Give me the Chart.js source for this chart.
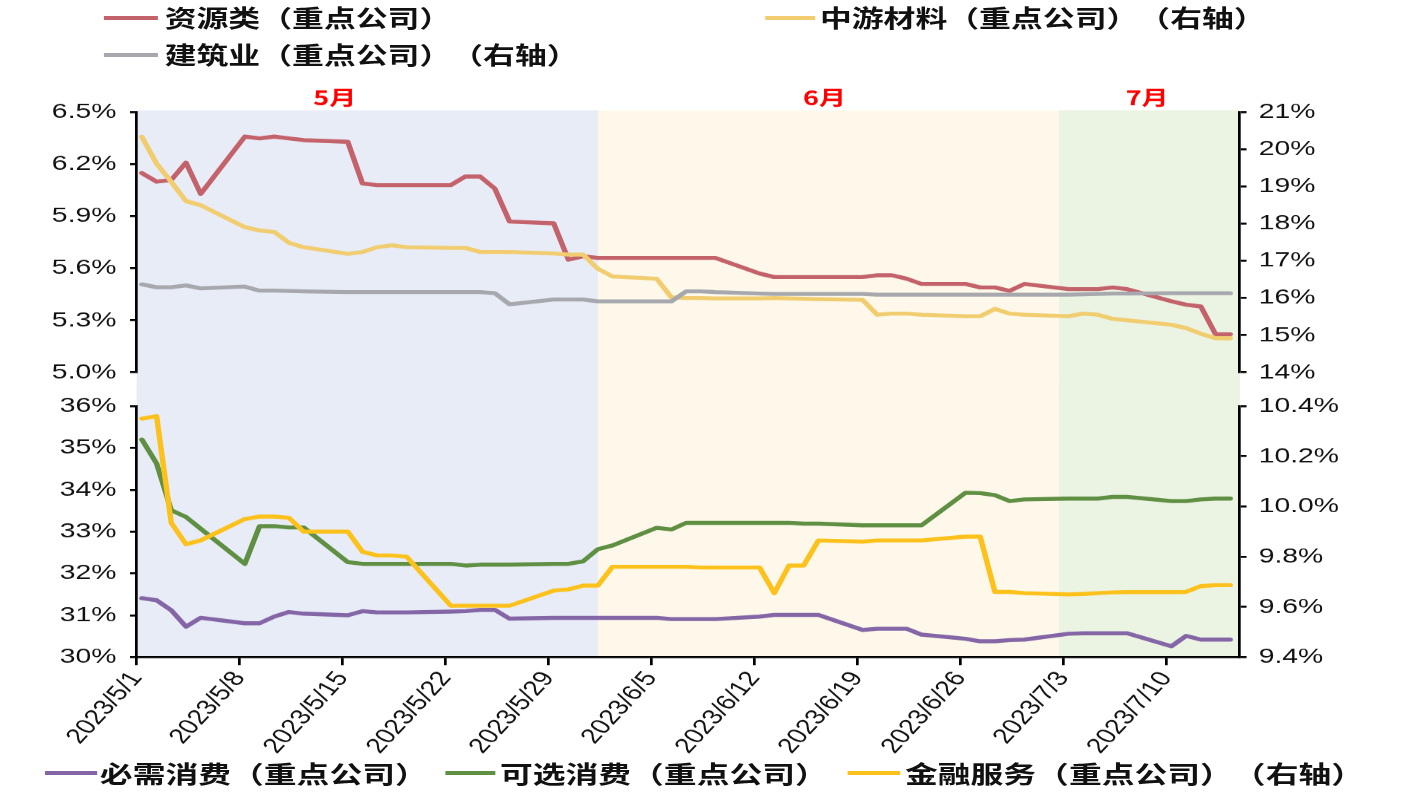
<!DOCTYPE html>
<html>
<head>
<meta charset="utf-8">
<script src="https://cdn.jsdelivr.net/npm/chart.js@4.4.0/dist/chart.umd.min.js"></script>
<style>
  html, body { margin: 0; padding: 0; background: #fff; overflow: hidden; }
  #stage { position: absolute; left: 0; top: 0; width: 1041px; height: 796px; transform-origin: 0 0; }
  .panel { position: absolute; left: 0; width: 1041px; }
  .lg { position: absolute; display: flex; align-items: center; height: 26px;
        font-family: "Noto Sans CJK SC", sans-serif; font-weight: 700; font-size: 23.6px;
        color: #111; white-space: nowrap; line-height: 1; text-spacing-trim: space-all; }
  #legendBot .lg { font-size: 24.3px; }
  .lg i { display: inline-block; height: 4px; }
</style>
</head>
<body>
<div id="stage">
  <div id="legendTop"></div>
  <div class="panel" style="top:80px;height:320px"><canvas id="cTop"></canvas></div>
  <div class="panel" style="top:380px;height:380px"><canvas id="cBot"></canvas></div>
  <div id="legendBot"></div>
</div>
<script>
// ---- data ---------------------------------------------------------------
const tradeDates = [
  '2023/5/1','2023/5/2','2023/5/3','2023/5/4','2023/5/5',
  '2023/5/8','2023/5/9','2023/5/10','2023/5/11','2023/5/12',
  '2023/5/15','2023/5/16','2023/5/17','2023/5/18','2023/5/19',
  '2023/5/22','2023/5/23','2023/5/24','2023/5/25','2023/5/26',
  '2023/5/29','2023/5/30','2023/5/31','2023/6/1','2023/6/2',
  '2023/6/5','2023/6/6','2023/6/7','2023/6/8','2023/6/9',
  '2023/6/12','2023/6/13','2023/6/14','2023/6/15','2023/6/16',
  '2023/6/19','2023/6/20','2023/6/21','2023/6/22','2023/6/23',
  '2023/6/26','2023/6/27','2023/6/28','2023/6/29','2023/6/30',
  '2023/7/3','2023/7/4','2023/7/5','2023/7/6','2023/7/7',
  '2023/7/10','2023/7/11','2023/7/12','2023/7/13','2023/7/14'
];

// upper panel
const resources = [6.15,6.10,6.11,6.21,6.03, 6.36,6.35,6.36,6.35,6.34, 6.33,6.09,6.08,6.08,6.08,
  6.08,6.13,6.13,6.06,5.87, 5.86,5.65,5.67,5.66,5.66, 5.66,5.66,5.66,5.66,5.66,
  5.57,5.55,5.55,5.55,5.55, 5.55,5.56,5.56,5.54,5.51, 5.51,5.49,5.49,5.47,5.51,
  5.48,5.48,5.48,5.49,5.48, 5.41,5.39,5.38,5.22,5.22];
const midstream = [20.34,19.62,19.13,18.61,18.50, 17.91,17.82,17.78,17.49,17.37, 17.19,17.24,17.37,17.42,17.37,
  17.35,17.35,17.24,17.24,17.24, 17.20,17.17,17.17,16.79,16.58, 16.52,16.02,16.00,16.00,15.99,
  15.99,16.00,15.99,15.98,15.97, 15.95,15.55,15.58,15.58,15.55, 15.51,15.51,15.71,15.58,15.55,
  15.51,15.58,15.55,15.44,15.40, 15.28,15.19,15.04,14.92,14.92];
const construction = [16.37,16.29,16.29,16.34,16.26, 16.31,16.20,16.20,16.19,16.18, 16.16,16.16,16.16,16.16,16.16,
  16.16,16.16,16.16,16.13,15.83, 15.96,15.96,15.96,15.91,15.91, 15.91,15.91,16.18,16.18,16.16,
  16.12,16.11,16.11,16.11,16.11, 16.11,16.09,16.09,16.09,16.09, 16.09,16.09,16.09,16.09,16.09,
  16.09,16.10,16.11,16.12,16.12, 16.13,16.13,16.13,16.13,16.13];

// lower panel
const staples = [31.41,31.36,31.12,30.73,30.94, 30.81,30.81,30.97,31.08,31.04, 31.00,31.10,31.07,31.07,31.07,
  31.09,31.10,31.13,31.13,30.92, 30.94,30.94,30.94,30.94,30.94, 30.94,30.91,30.91,30.91,30.91,
  30.97,31.01,31.01,31.01,31.01, 30.65,30.68,30.68,30.68,30.54, 30.44,30.38,30.38,30.41,30.42,
  30.56,30.57,30.57,30.57,30.57, 30.26,30.51,30.42,30.42,30.42];
const discretionary = [35.20,34.63,33.51,33.35,33.07, 32.23,33.13,33.13,33.10,33.10, 32.27,32.23,32.23,32.23,32.23,
  32.23,32.19,32.21,32.21,32.21, 32.23,32.23,32.29,32.58,32.67, 33.09,33.05,33.21,33.21,33.21,
  33.21,33.21,33.21,33.19,33.19, 33.15,33.15,33.15,33.15,33.15, 33.93,33.92,33.87,33.73,33.77,
  33.79,33.79,33.79,33.83,33.83, 33.73,33.73,33.77,33.79,33.79];
const finance = [10.35,10.36,9.935,9.85,9.865, 9.95,9.96,9.96,9.955,9.90, 9.90,9.82,9.805,9.805,9.80,
  9.605,9.605,9.605,9.605,9.605, 9.665,9.67,9.685,9.685,9.76, 9.76,9.76,9.76,9.757,9.757,
  9.757,9.655,9.765,9.765,9.865, 9.86,9.865,9.865,9.865,9.865, 9.88,9.88,9.66,9.66,9.655,
  9.65,9.652,9.655,9.658,9.659, 9.659,9.66,9.683,9.687,9.687];

// axis tick labels
const xTickLabels = ['2023/5/1','2023/5/8','2023/5/15','2023/5/22','2023/5/29','2023/6/5',
  '2023/6/12','2023/6/19','2023/6/26','2023/7/3','2023/7/10'];
const topLeftLabels  = ['5.0%','5.3%','5.6%','5.9%','6.2%','6.5%'];
const topRightLabels = ['14%','15%','16%','17%','18%','19%','20%','21%'];
const botLeftLabels  = ['30%','31%','32%','33%','34%','35%','36%'];
const botRightLabels = ['9.4%','9.6%','9.8%','10.0%','10.2%','10.4%'];

const monthNames = ['5月','6月','7月'];

// ---- layout & style -----------------------------------------------------
const W = 1041;
const STRETCH = 1405 / W;              // the whole figure is drawn wide
document.getElementById('stage').style.transform = 'scaleX(' + STRETCH + ')';

const LEFT_AXIS_W = 101.3;
const RIGHT_AXIS_W = W - 918.6;
const X_MAX = 75;                      // days shown from 2023/5/1
const POINT_SHIFT = 0.35;              // points sit just right of their day tick
const bandSpans = [[0, 31.37], [31.37, 62.7], [62.7, X_MAX]];
const bandColors = ['#E8ECF7', '#FEF8EA', '#EBF3E3'];
const monthLabelDays = [13.47, 46.76, 68.7];

const tickFont = { family: '"Liberation Sans", Arial, sans-serif', size: 21 };
const dateFont = { family: '"Liberation Sans", Arial, sans-serif', size: 21 };
const INK = '#111';

const DAY_MS = 86400000;
const ORIGIN = Date.UTC(2023, 4, 1);
function dayOf(s) {
  const [y, m, d] = s.split('/').map(Number);
  return (Date.UTC(y, m - 1, d) - ORIGIN) / DAY_MS;
}
function points(vals) {
  return vals.map((v, i) => ({ x: dayOf(tradeDates[i]) + POINT_SHIFT, y: v }));
}

const topSeries = [
  { name: '资源类（重点公司）', data: resources, color: '#C4626B', axis: 'yL' },
  { name: '中游材料（重点公司）（右轴）', data: midstream, color: '#F1CD6F', axis: 'yR' },
  { name: '建筑业（重点公司）（右轴）', data: construction, color: '#A6A8AE', axis: 'yR' }
];
const botSeries = [
  { name: '必需消费（重点公司）', data: staples, color: '#8466A6', axis: 'yL' },
  { name: '可选消费（重点公司）', data: discretionary, color: '#5F8F42', axis: 'yL' },
  { name: '金融服务（重点公司）（右轴）', data: finance, color: '#FCC11A', axis: 'yR' }
];

// legend placement: [left, centerY, swatch width, gap]
const topLegendSpots = [[77, 18, 40, 5], [566.8, 18, 37, 3.7], [77, 55, 40, 5]];
const botLegendSpots = [[33.3, 773, 38.5, 2.2], [329.7, 773, 37, 3.7], [628.3, 773, 38.5, 3.7]];

function buildLegend(hostId, list, spots) {
  const host = document.getElementById(hostId);
  list.forEach((s, i) => {
    const [left, cy, sw, gap] = spots[i];
    const item = document.createElement('div');
    item.className = 'lg';
    item.style.left = left + 'px';
    item.style.top = (cy - 13) + 'px';
    const sample = document.createElement('i');
    sample.style.width = sw + 'px';
    sample.style.background = s.color;
    sample.style.marginRight = gap + 'px';
    const text = document.createElement('span');
    text.textContent = s.name;
    item.appendChild(sample);
    item.appendChild(text);
    host.appendChild(item);
  });
}
buildLegend('legendTop', topSeries, topLegendSpots);
buildLegend('legendBot', botSeries, botLegendSpots);

// month shading behind both panels, with month captions over the upper one
const monthBands = {
  id: 'monthBands',
  beforeDraw(chart, args, opts) {
    const { ctx, chartArea, scales } = chart;
    const x = scales.x;
    const y0 = opts.upper ? chartArea.top - 2 : 0;
    const y1 = opts.upper ? chart.height : chartArea.bottom;
    ctx.save();
    bandSpans.forEach((sp, i) => {
      const a = x.getPixelForValue(sp[0]);
      const b = x.getPixelForValue(sp[1]);
      ctx.fillStyle = bandColors[i];
      ctx.fillRect(a, y0, b - a, y1 - y0);
    });
    ctx.restore();
  },
  afterDraw(chart, args, opts) {
    if (!opts.upper) return;
    const { ctx, chartArea, scales } = chart;
    ctx.save();
    ctx.font = 'bold 20px "Noto Sans CJK SC", sans-serif';
    ctx.fillStyle = '#FF0000';
    ctx.textAlign = 'center';
    ctx.textBaseline = 'middle';
    monthNames.forEach((m, i) => {
      ctx.fillText(m, scales.x.getPixelForValue(monthLabelDays[i]), chartArea.top - 15);
    });
    ctx.restore();
  }
};

function yAxis(position, labels) {
  const values = labels.map(l => parseFloat(l));
  return {
    position,
    min: values[0],
    max: values[values.length - 1],
    afterBuildTicks: s => { s.ticks = values.map(v => ({ value: v })); },
    afterFit: s => { s.width = position === 'left' ? LEFT_AXIS_W : RIGHT_AXIS_W; },
    ticks: {
      callback: (v, i) => labels[i],
      font: tickFont, color: INK,
      padding: position === 'left' ? 10 : 9
    },
    grid: { drawOnChartArea: false, drawTicks: true, tickLength: 5, color: '#000', lineWidth: 2 },
    border: { display: true, color: '#000', width: 2 }
  };
}

function xAxis(show) {
  return {
    type: 'linear',
    display: show,
    min: 0,
    max: X_MAX,
    afterBuildTicks: s => { s.ticks = xTickLabels.map(l => ({ value: dayOf(l) })); },
    afterFit: s => { if (show) s.height = 103.3; },
    ticks: {
      autoSkip: false, minRotation: 55, maxRotation: 55,
      callback: (v, i) => xTickLabels[i],
      font: dateFont, color: INK, padding: 2
    },
    grid: { drawOnChartArea: false, drawTicks: true, tickLength: 8, color: '#000', lineWidth: 2 },
    border: { display: true, color: '#000', width: 2 }
  };
}

function datasets(list) {
  return list.map((s, i) => ({
    label: s.name,
    data: points(s.data),
    yAxisID: s.axis,
    borderColor: s.color,
    backgroundColor: s.color,
    borderWidth: 4,
    pointRadius: 0,
    tension: 0,
    borderJoinStyle: 'round',
    borderCapStyle: 'round',
    order: list.length - i
  }));
}

function makeChart(id, list, upper, leftLabels, rightLabels, padding) {
  return new Chart(document.getElementById(id), {
    type: 'line',
    data: { datasets: datasets(list) },
    options: {
      responsive: true,
      maintainAspectRatio: false,
      animation: false,
      devicePixelRatio: STRETCH,
      layout: { padding },
      plugins: {
        legend: { display: false },
        tooltip: { enabled: false },
        monthBands: { upper }
      },
      scales: {
        x: xAxis(!upper),
        yL: yAxis('left', leftLabels),
        yR: yAxis('right', rightLabels)
      }
    },
    plugins: [monthBands]
  });
}

makeChart('cTop', topSeries, true, topLeftLabels, topRightLabels,
  { top: 32.3, bottom: 28.3, left: 0, right: 0 });
makeChart('cBot', botSeries, false, botLeftLabels, botRightLabels,
  { top: 26, bottom: 0, left: 0, right: 0 });
</script>
</body>
</html>
